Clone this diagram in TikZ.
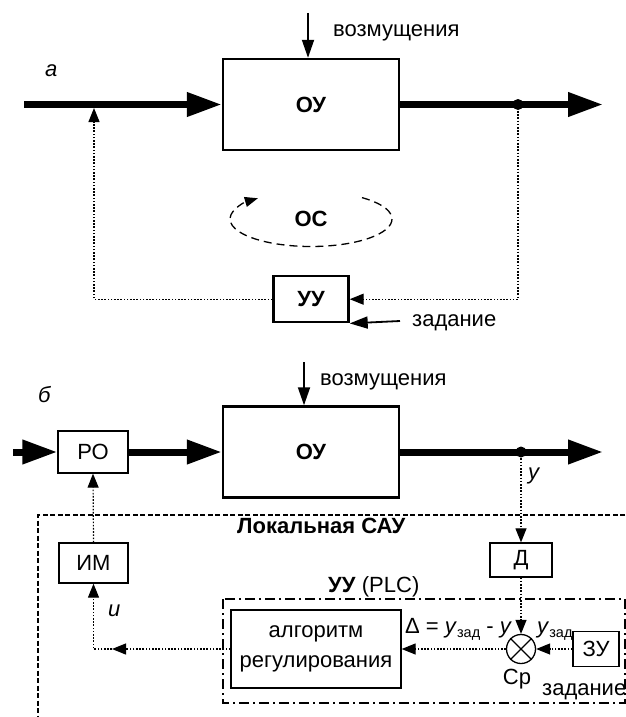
\documentclass[tikz,border=0pt]{standalone}
\usepackage{fontspec}
\setmainfont{Liberation Sans}
\usetikzlibrary{arrows.meta}
\pgfdeclarelayer{background}
\pgfsetlayers{background,main}
\tikzstyle{plant}=[draw, line width=2.4pt, inner sep=0pt, font=\bfseries]
\tikzstyle{unit}=[draw, line width=1.3pt, inner sep=0pt]
\tikzstyle{flow}=[draw, line width=7pt, -{Triangle[length=35pt,width=23pt]}]
\tikzstyle{signal}=[draw, line width=1.2pt, dash pattern=on 1.6pt off 1.6pt,
	-{Triangle[length=14pt,width=11pt]}]
\tikzstyle{push}=[draw, line width=1.8pt, -{Triangle[length=18pt,width=12pt]}]
\tikzstyle{osloop}=[draw, line width=1.3pt, dash pattern=on 8pt off 5pt,
	-{Triangle[length=13pt,width=10pt]}]
\tikzstyle{texto}=[inner sep=0pt, anchor=base west]
\newcommand{\myBlock}[5]{node (p#1) [#2, minimum width=#3, minimum height=#4]
	{#5}}
\newcommand{\zad}{\raisebox{-4pt}{\fontsize{14.5}{14.5}\selectfont зад}}

\begin{document}
\fontsize{22}{30}\selectfont
\begin{tikzpicture}[x=1pt,y=-1pt]
	\useasboundingbox (0,0) rectangle (626,717);

	% scheme a
	\path (311,104.5) \myBlock{1}{plant}{176pt}{91pt}{ОУ};
	\path (p1.south)+(0,148) \myBlock{2}{plant}{75pt}{46pt}{УУ};
	\path (p1.center)+(0,114.5) node (p0) [font=\bfseries] {ОС};
	\coordinate (in1) at (24,104.5);
	\coordinate (out1) at (603,104.5);
	\coordinate (j1) at (518,104.5);
	\coordinate (fb1) at (94,108);
	\coordinate (dist1) at (308,13);
	\coordinate (set1) at (400,321);

	% scheme b
	\path (93,452) \myBlock{3}{unit}{70pt}{42pt}{РО};
	\path (311,452) \myBlock{4}{plant}{176pt}{91pt}{ОУ};
	\path (93.5,563) \myBlock{5}{unit}{69pt}{40pt}{ИМ};
	\path (521,560) \myBlock{6}{unit}{62pt}{34pt}{Д};
	\path (316,649) \myBlock{7}{unit, align=center}{170pt}{78pt}{алгоритм\\регулирования};
	\path (521,649) node (p8) [unit, circle, minimum size=29pt] {};
	\path (596,649) \myBlock{9}{unit}{46pt}{35pt}{ЗУ};
	\coordinate (in2) at (13,452);
	\coordinate (out2) at (603,452);
	\coordinate (j2) at (521,452);
	\coordinate (m1) at (112,649);
	\coordinate (dist2) at (304,362);

	% labels
	\path (45,77) node [texto] {\itshape а};
	\path (333,37) node [texto] {возмущения};
	\path (412,326) node [texto] {задание};
	\path (38,402) node [texto] {\itshape б};
	\path (320,385) node [texto] {возмущения};
	\path (237,533) node [texto, font=\bfseries] {Локальная САУ};
	\path (328,592) node [texto] {\textbf{УУ} (PLC)};
	\path (405,633) node [texto] {Δ = \textit{y}\zad{} - \textit{y}};
	\path (537,633) node [texto] {\textit{y}\zad};
	\path (517,684) node [texto, anchor=base] {Ср};
	\path (542,695) node [texto] {задание};
	\path (108,616) node [texto] {\itshape u};
	\path (528,479) node [texto] {\itshape y};

	% Draw arrows between elements
	\path [flow] (in1) -- (p1.west);
	\path [flow] (p1.east) -- (out1);
	\fill (j1) circle[radius=5.5pt];
	\path [signal] (j1) |- (p2.east);
	\path [signal] (p2.west) -| (fb1);
	\path [push] (set1) -- (p2.south east);
	\path [push] (dist1) -- (dist1 |- p1.north);
	\path [osloop] ([shift={(51:81pt and 27.5pt)}]p0.center)
		arc[start angle=51, end angle=-229, x radius=81pt, y radius=27.5pt];

	\path [flow] (in2) -- (p3.west);
	\path [flow] (p3.east) -- (p4.west);
	\path [flow] (p4.east) -- (out2);
	\fill (j2) circle[radius=5.5pt];
	\path [push] (dist2) -- (dist2 |- p4.north);
	\path [signal] (j2) -- (p6.north);
	\path [signal] (p6.south) -- (p8.north);
	\path [signal] (p9.west) -- (p8.east);
	\path [signal] (p8.west) -- (p7.east);
	\path [signal] (p7.west) -- (m1);
	\path [signal] (m1) -| (p5.south);
	\path [signal] (p5.north) -- (p3.south);
	\draw [line width=1.1pt] (p8.45) -- (p8.225) (p8.135) -- (p8.315);

	% frames
	\begin{pgfonlayer}{background}
		\draw [line width=2pt, dash pattern=on 5pt off 2.5pt]
			(640,515) -| (38,730);
		\draw [line width=1.2pt, dash pattern=on 10pt off 4pt on 2pt off 4pt]
			(223,599) rectangle (625,703);
	\end{pgfonlayer}
\end{tikzpicture}
\end{document}
